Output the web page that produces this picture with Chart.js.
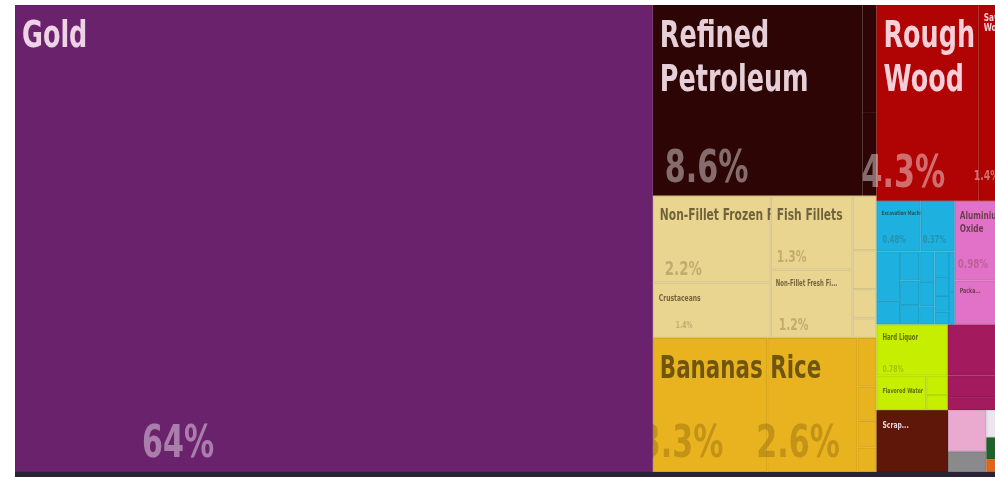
<!DOCTYPE html>
<html>
<head>
<meta charset="utf-8">
<script src="https://cdn.jsdelivr.net/npm/chart.js@4.4.1/dist/chart.umd.min.js"></script>
<style>
  html, body { margin: 0; padding: 0; background: #fff; }
  #wrap { width: 995px; height: 477px; position: relative; }
</style>
</head>
<body>
<div id="wrap"><canvas id="exports"></canvas></div>
<script>
// export shares, % of total
const products = [
  'Gold',
  'Refined Petroleum', 'Petroleum Gas', 'Crude Petroleum',
  'Non-Fillet Frozen Fish', 'Crustaceans', 'Fish Fillets', 'Non-Fillet Fresh Fish',
  'Molluscs', 'Dried Fish', 'Processed Fish', 'Bovine',
  'Bananas', 'Rice', 'Coconuts', 'Tropical Fruits', 'Other Vegetables', 'Spices',
  'Rough Wood', 'Sawn Wood',
  'Excavation Machinery', 'Liquid Pumps', 'Engine Parts', 'Centrifuges', 'Electric Motors',
  'Computers', 'Valves', 'Broadcasting Equipment', 'Air Conditioners', 'Refrigerators',
  'Lifting Machinery', 'Electrical Transformers', 'Industrial Printers', 'Insulated Wire',
  'Low-voltage Protection Equipment', 'Power Generators',
  'Aluminium Oxide', 'Packaged Medicaments',
  'Hard Liquor', 'Flavored Water', 'Raw Sugar', 'Animal Food',
  'Cars', 'Delivery Trucks', 'Vehicle Parts',
  'Scrap Iron',
  'Knit Garments', 'Cement', 'Collector Items', 'Plastic Lids', 'Leather'
];
const shares = [
  64,
  8.6, 0.32, 0.25,
  2.2, 1.4, 1.3, 1.2,
  0.28, 0.2, 0.15, 0.1,
  3.3, 2.6, 0.2, 0.14, 0.11, 0.1,
  4.3, 1.4,
  0.48, 0.37, 0.25, 0.12, 0.12,
  0.1, 0.08, 0.1, 0.08, 0.06,
  0.08, 0.06, 0.05, 0.04,
  0.05, 0.04,
  0.98, 0.54,
  0.78, 0.37, 0.09, 0.07,
  0.7, 0.3, 0.18,
  0.95,
  0.34, 0.17, 0.15, 0.12, 0.07
];
const sectors = [
  'Precious Metals',
  'Mineral Products', 'Mineral Products', 'Mineral Products',
  'Animal Products', 'Animal Products', 'Animal Products', 'Animal Products',
  'Animal Products', 'Animal Products', 'Animal Products', 'Animal Products',
  'Vegetable Products', 'Vegetable Products', 'Vegetable Products', 'Vegetable Products', 'Vegetable Products', 'Vegetable Products',
  'Wood Products', 'Wood Products',
  'Machines', 'Machines', 'Machines', 'Machines', 'Machines',
  'Machines', 'Machines', 'Machines', 'Machines', 'Machines',
  'Machines', 'Machines', 'Machines', 'Machines',
  'Machines', 'Machines',
  'Chemical Products', 'Chemical Products',
  'Foodstuffs', 'Foodstuffs', 'Foodstuffs', 'Foodstuffs',
  'Transportation', 'Transportation', 'Transportation',
  'Metals',
  'Textiles', 'Stone And Glass', 'Arts And Antiques', 'Plastics And Rubbers', 'Animal Hides'
];

const sectorColors = {
  'Precious Metals': '#6b226d',
  'Mineral Products': '#2e0505',
  'Animal Products': '#e9d490',
  'Vegetable Products': '#e9b31f',
  'Wood Products': '#b00404',
  'Machines': '#1eb1df',
  'Chemical Products': '#e172c7',
  'Foodstuffs': '#c6ee00',
  'Transportation': '#a41a5e',
  'Metals': '#5e1708',
  'Textiles': '#eaaad0',
  'Stone And Glass': '#8a8a8c',
  'Arts And Antiques': '#ece4ee',
  'Plastics And Rubbers': '#1f632b',
  'Animal Hides': '#e2661a'
};

// slice-and-dice nesting: H splits left to right, V splits top to bottom
const H = (...c) => ({ dir: 'h', c });
const V = (...c) => ({ dir: 'v', c });

const nesting = H('Gold', H(
  V(
    H('Refined Petroleum', V('Petroleum Gas', 'Crude Petroleum')),
    H(V('Non-Fillet Frozen Fish', 'Crustaceans'),
      V('Fish Fillets', 'Non-Fillet Fresh Fish'),
      V('Molluscs', 'Dried Fish', 'Processed Fish', 'Bovine')),
    H('Bananas', 'Rice', V('Coconuts', 'Tropical Fruits', 'Other Vegetables', 'Spices'))
  ),
  V(
    H('Rough Wood', 'Sawn Wood'),
    H(V(H('Excavation Machinery', 'Liquid Pumps'),
        H(V('Engine Parts', 'Centrifuges'),
          V('Electric Motors', 'Computers', 'Valves'),
          V('Broadcasting Equipment', 'Air Conditioners', 'Refrigerators'),
          V('Lifting Machinery', 'Electrical Transformers', 'Industrial Printers', 'Insulated Wire'),
          V('Low-voltage Protection Equipment', 'Power Generators'))),
      V('Aluminium Oxide', 'Packaged Medicaments')),
    H(V('Hard Liquor', H('Flavored Water', V('Raw Sugar', 'Animal Food'))),
      V('Cars', 'Delivery Trucks', 'Vehicle Parts')),
    H('Scrap Iron', H(V('Knit Garments', 'Cement'), V('Collector Items', 'Plastic Lids', 'Leather')))
  )
));

const shareOf = name => shares[products.indexOf(name)];
const total = node => typeof node === 'string' ? shareOf(node) : node.c.reduce((s, k) => s + total(k), 0);

// recursive layout in units of 0..100 on both axes
function place(node, x0, y0, x1, y1, out) {
  if (typeof node === 'string') {
    const i = products.indexOf(node);
    out.push({ x: (x0 + x1) / 2, y: (y0 + y1) / 2, x0, y0, x1, y1,
      name: node, share: shares[i], color: sectorColors[sectors[i]] });
    return out;
  }
  const sum = total(node);
  let pos = node.dir === 'h' ? x0 : y0;
  node.c.forEach(k => {
    const span = (total(k) / sum) * (node.dir === 'h' ? x1 - x0 : y1 - y0);
    if (node.dir === 'h') place(k, pos, y0, pos + span, y1, out);
    else place(k, x0, pos, x1, pos + span, out);
    pos += span;
  });
  return out;
}

const cells = place(nesting, 0, 0, 100, 100, []);

// text settings per labelled tile
const labelStyle = {
  'Gold': { lines: ['Gold'], size: 38, top: 42, lead: 44, dx: 7, pct: 45, pdx: 127, pbot: 15, tone: 'light' },
  'Refined Petroleum': { lines: ['Refined', 'Petroleum'], size: 38, top: 42, lead: 44, dx: 7, pct: 45, pdx: 12, pbot: 14, tone: 'light' },
  'Rough Wood': { lines: ['Rough', 'Wood'], size: 38, top: 42, lead: 44, dx: 7, pct: 45, pdx: -15, pbot: 14, tone: 'light' },
  'Sawn Wood': { lines: ['Sawn', 'Wood'], size: 11, top: 16, lead: 10, dx: 5, pct: 14, pdx: -5, pbot: 21, tone: 'light' },
  'Non-Fillet Frozen Fish': { lines: ['Non-Fillet Frozen Fish'], size: 16, top: 24, lead: 18, dx: 7, pct: 20, pdx: 12, pbot: 8, tone: 'dark' },
  'Fish Fillets': { lines: ['Fish Fillets'], size: 16, top: 24, lead: 18, dx: 6, pct: 16, pdx: 6, pbot: 8, tone: 'dark' },
  'Crustaceans': { lines: ['Crustaceans'], size: 9, top: 18, lead: 10, dx: 6, pct: 9, pdx: 23, pbot: 10, tone: 'dark' },
  'Non-Fillet Fresh Fish': { lines: ['Non-Fillet Fresh Fi...'], size: 8, top: 16, lead: 9, dx: 5, pct: 16, pdx: 8, pbot: 8, tone: 'dark' },
  'Bananas': { lines: ['Bananas'], size: 32, top: 40, lead: 36, dx: 7, pct: 45, pdx: -13, pbot: 15, tone: 'dark' },
  'Rice': { lines: ['Rice'], size: 32, top: 40, lead: 36, dx: 3, pct: 45, pdx: -11, pbot: 15, tone: 'dark' },
  'Excavation Machinery': { lines: ['Excavation Machinery'], size: 6, top: 14, lead: 7, dx: 5, pct: 10, pdx: 6, pbot: 8, tone: 'dark' },
  'Liquid Pumps': { lines: [], size: 6, top: 14, lead: 7, dx: 3, pct: 10, pdx: 2, pbot: 8, tone: 'dark' },
  'Aluminium Oxide': { lines: ['Aluminium', 'Oxide'], size: 11, top: 18, lead: 13, dx: 5, pct: 13, pdx: 3, pbot: 13, tone: 'dark' },
  'Packaged Medicaments': { lines: ['Packa...'], size: 7, top: 12, lead: 8, dx: 5, pct: 0, tone: 'dark' },
  'Hard Liquor': { lines: ['Hard Liquor'], size: 8, top: 15, lead: 9, dx: 6, pct: 9, pdx: 6, pbot: 4, tone: 'dark' },
  'Flavored Water': { lines: ['Flavored Water'], size: 7, top: 17, lead: 8, dx: 6, pct: 0, tone: 'dark' },
  'Scrap Iron': { lines: ['Scrap...'], size: 9, top: 18, lead: 10, dx: 6, pct: 0, tone: 'light' }
};
const tones = {
  light: { title: 'rgba(255,236,246,0.88)', pct: 'rgba(255,255,255,0.42)' },
  dark: { title: 'rgba(35,28,5,0.62)', pct: 'rgba(70,45,0,0.24)' }
};
const squeeze = 0.67;

function fmtShare(v) {
  if (v >= 10) return v.toFixed(0) + '%';
  if (v >= 1) return v.toFixed(1) + '%';
  return v.toFixed(2) + '%';
}

function drawText(ctx, str, x, y, size, color) {
  ctx.save();
  ctx.translate(x, y);
  ctx.scale(squeeze, 1);
  ctx.font = 'bold ' + size + 'px "DejaVu Sans"';
  ctx.fillStyle = color;
  ctx.textBaseline = 'alphabetic';
  ctx.fillText(str, 0, 0);
  ctx.restore();
}

function drawLabels(ctx, c, l, t, r, b) {
  const st = labelStyle[c.name];
  if (!st) return;
  const tone = tones[st.tone];
  ctx.save();
  ctx.beginPath();
  ctx.rect(l, t, r - l, b - t);
  ctx.clip();
  st.lines.forEach((line, k) => drawText(ctx, line, l + st.dx, t + st.top + k * st.lead, st.size, tone.title));
  ctx.restore();
  if (st.pct) drawText(ctx, fmtShare(c.share), l + st.pdx, b - st.pbot, st.pct, tone.pct);
}

const treemapCells = {
  id: 'treemapCells',
  afterDatasetsDraw(chart) {
    const { ctx, chartArea: a, scales: { x, y } } = chart;
    const data = chart.data.datasets[0].data;
    ctx.save();
    ctx.beginPath();
    ctx.rect(a.left, a.top, a.right - a.left, a.bottom - a.top);
    ctx.clip();
    // the dominant tile goes on top
    data.slice(1).concat(data[0]).forEach(c => {
      const l = x.getPixelForValue(c.x0), r = x.getPixelForValue(c.x1);
      const t = y.getPixelForValue(c.y0), b = y.getPixelForValue(c.y1);
      ctx.fillStyle = c.color;
      ctx.fillRect(l, t, r - l, b - t);
      ctx.strokeStyle = 'rgba(0,0,0,0.09)';
      ctx.lineWidth = 1;
      ctx.strokeRect(l + 0.5, t + 0.5, r - l - 1, b - t - 1);
      drawLabels(ctx, c, l, t, r, b);
    });
    ctx.restore();
    // timeline strip under the map
    ctx.fillStyle = '#2a2335';
    ctx.fillRect(a.left, a.bottom, a.right - a.left, chart.height - a.bottom);
  }
};

new Chart(document.getElementById('exports'), {
  type: 'scatter',
  data: {
    datasets: [{
      data: cells,
      pointRadius: 0,
      pointHoverRadius: 0
    }]
  },
  options: {
    responsive: true,
    maintainAspectRatio: false,
    animation: false,
    layout: { padding: { left: 15, top: 5, right: 0, bottom: 5 } },
    plugins: { legend: { display: false }, tooltip: { enabled: false } },
    scales: {
      x: { type: 'linear', display: false, min: 0, max: 98.3 },
      y: { type: 'linear', display: false, min: 0, max: 100, reverse: true }
    }
  },
  plugins: [treemapCells]
});
</script>
</body>
</html>
